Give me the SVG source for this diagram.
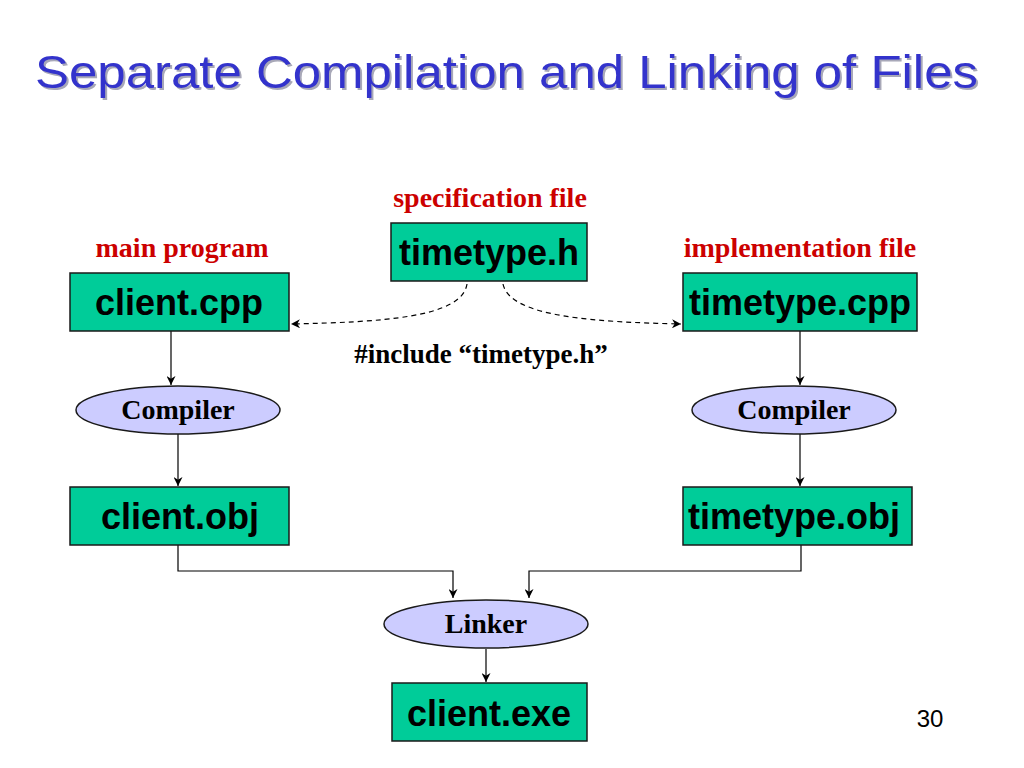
<svg xmlns="http://www.w3.org/2000/svg" width="1024" height="768" viewBox="0 0 1024 768">
<defs>
<style>
.box{fill:#00CC99;stroke:#1a1a1a;stroke-width:1.5}
.ell{fill:#CCCCFF;stroke:#1a1a1a;stroke-width:1.5}
.bt{font-family:"Liberation Sans",Arial,sans-serif;font-weight:bold;font-size:36px;fill:#000;text-anchor:middle}
.et{font-family:"Liberation Serif","Times New Roman",serif;font-weight:bold;font-size:28px;fill:#000;text-anchor:middle}
.lbl{font-family:"Liberation Serif","Times New Roman",serif;font-weight:bold;font-size:28px;fill:#CC0000;text-anchor:middle}
.con{fill:none;stroke:#000;stroke-width:1.2}
.dash{fill:none;stroke:#000;stroke-width:1.2;stroke-dasharray:5,4}
</style>
<marker id="ah" viewBox="0 0 10 10" refX="10" refY="5" markerWidth="9" markerHeight="9" markerUnits="userSpaceOnUse" orient="auto">
<path d="M0,0 L10,5 L0,10 L3,5 z" fill="#000"/>
</marker>
</defs>
<rect width="1024" height="768" fill="#fff"/>
<g id="title">
<text x="37" y="90" font-family="Liberation Sans,Arial,sans-serif" font-size="47" fill="#a8a8b8" textLength="943" lengthAdjust="spacingAndGlyphs">Separate Compilation and Linking of Files</text>
<text x="35" y="88" font-family="Liberation Sans,Arial,sans-serif" font-size="47" fill="#3333CC" textLength="943" lengthAdjust="spacingAndGlyphs">Separate Compilation and Linking of Files</text>
</g>
<g id="labels">
<text class="lbl" x="490" y="207">specification file</text>
<text class="lbl" x="182" y="257">main program</text>
<text class="lbl" x="800" y="257">implementation file</text>
<text x="481" y="363" font-family="Liberation Serif,Times New Roman,serif" font-weight="bold" font-size="27" fill="#000" text-anchor="middle">#include “timetype.h”</text>
<text x="930" y="727" font-family="Liberation Sans,Arial,sans-serif" font-size="24" fill="#000" text-anchor="middle">30</text>
</g>
<g id="connectors">
<path class="dash" d="M467,284 C462,318 380,322 291,324" marker-end="url(#ah)"/>
<path class="dash" d="M503,284 C510,318 600,322 681,324" marker-end="url(#ah)"/>
<path class="con" d="M171,331 L171,385" marker-end="url(#ah)"/>
<path class="con" d="M178,434 L178,486" marker-end="url(#ah)"/>
<path class="con" d="M800,331 L800,385" marker-end="url(#ah)"/>
<path class="con" d="M800,434 L800,486" marker-end="url(#ah)"/>
<path class="con" d="M178,545 L178,571 L453,571 L453,598" marker-end="url(#ah)"/>
<path class="con" d="M801,545 L801,571 L529,571 L529,598" marker-end="url(#ah)"/>
<path class="con" d="M486,649 L486,682" marker-end="url(#ah)"/>
</g>
<g id="timetype_h">
<rect class="box" x="391" y="223" width="196" height="58"/>
<text class="bt" x="489" y="265">timetype.h</text>
</g>
<g id="client_cpp">
<rect class="box" x="70" y="273" width="219" height="58"/>
<text class="bt" x="179" y="315">client.cpp</text>
</g>
<g id="timetype_cpp">
<rect class="box" x="683" y="273" width="234" height="58"/>
<text class="bt" x="800" y="315">timetype.cpp</text>
</g>
<g id="compiler_left">
<ellipse class="ell" cx="178" cy="410" rx="102" ry="24"/>
<text class="et" x="178" y="419">Compiler</text>
</g>
<g id="compiler_right">
<ellipse class="ell" cx="794" cy="410" rx="102" ry="24"/>
<text class="et" x="794" y="419">Compiler</text>
</g>
<g id="client_obj">
<rect class="box" x="70" y="487" width="219" height="58"/>
<text class="bt" x="180" y="529">client.obj</text>
</g>
<g id="timetype_obj">
<rect class="box" x="683" y="487" width="229" height="58"/>
<text class="bt" x="794" y="529">timetype.obj</text>
</g>
<g id="linker">
<ellipse class="ell" cx="486" cy="624" rx="102" ry="24"/>
<text class="et" x="486" y="633">Linker</text>
</g>
<g id="client_exe">
<rect class="box" x="392" y="683" width="195" height="58"/>
<text class="bt" x="489" y="726">client.exe</text>
</g>
</svg>
